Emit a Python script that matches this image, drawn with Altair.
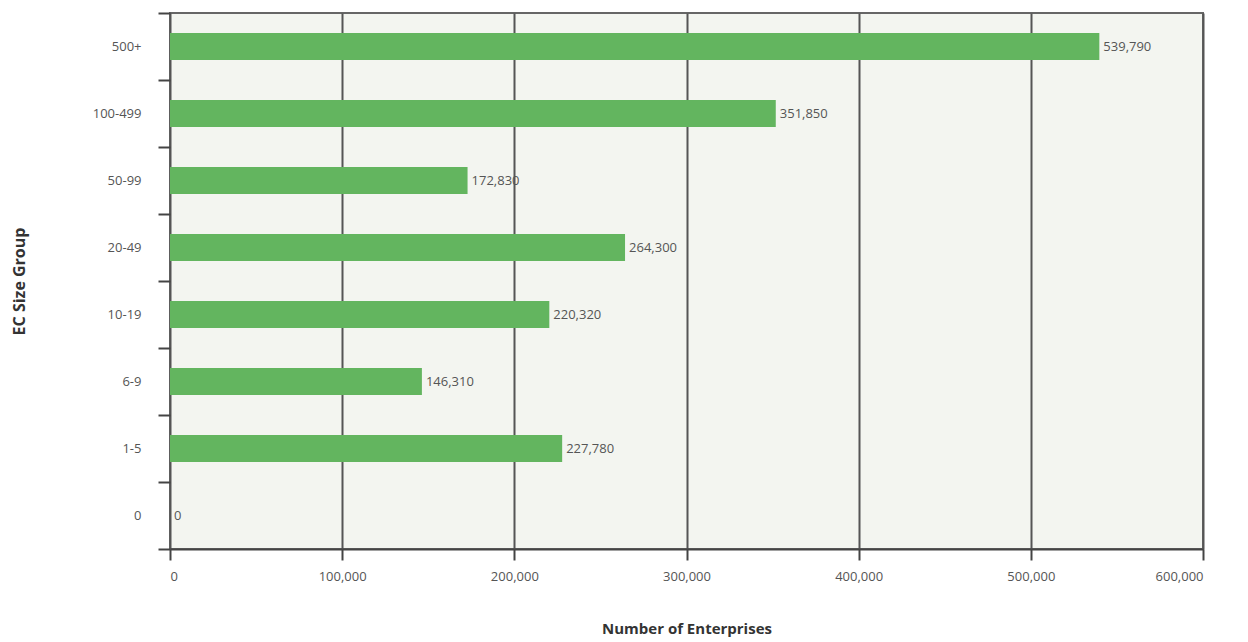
import altair as alt
import pandas as pd

categories = ["500+", "100-499", "50-99", "20-49", "10-19", "6-9", "1-5", "0"]
values = [539790, 351850, 172830, 264300, 220320, 146310, 227780, 0]
x_ticks = [0, 100000, 200000, 300000, 400000, 500000, 600000]

df = pd.DataFrame({"group": categories, "count": values})
df["label"] = df["count"].map(lambda v: f"{v:,}")

FONT = "Open Sans"
TXT = "#555555"

base = alt.Chart(df).encode(
    y=alt.Y("group:N", sort=categories, title="EC Size Group",
            scale=alt.Scale(paddingInner=0, paddingOuter=0),
            axis=alt.Axis(tickBand="extent", tickSize=12, tickColor="#444444",
                          tickWidth=2, domain=False, labelPadding=17,
                          labelFont=FONT, labelFontSize=13, labelColor=TXT,
                          titleFont=FONT, titleFontSize=16, titleFontWeight="bold",
                          titleColor="#333333", titleAngle=-90, titleX=-151,
                          titleY=268, titleBaseline="middle", grid=False)),
)

bars = base.mark_bar(color="#63b55f", height=alt.RelativeBandSize(0.4)).encode(
    x=alt.X("count:Q", title="Number of Enterprises",
            scale=alt.Scale(domain=[0, 600000], nice=False),
            axis=alt.Axis(values=x_ticks, format=",d", tickSize=11,
                          tickColor="#444444", tickWidth=2,
                          domainColor="#444444", domainWidth=2,
                          grid=True, gridColor="#555555", gridWidth=2,
                          labelFont=FONT, labelFontSize=13, labelColor=TXT,
                          labelPadding=10,
                          titleFont=FONT, titleFontSize=15, titleFontWeight="bold",
                          titleColor="#333333", titleY=79, titleBaseline="middle")),
)

labels = base.mark_text(align="left", baseline="middle", dx=4, font=FONT,
                        fontSize=13, color=TXT).encode(
    x=alt.X("count:Q"),
    text="label:N",
)

chart = (bars + labels).properties(
    width=1033, height=536,
    autosize=alt.AutoSizeParams(type="none"),
    padding={"left": 162, "top": 5, "right": 30, "bottom": 90},
    background="white",
).configure_view(
    fill="#f3f5f0", stroke="#666666", strokeWidth=2,
)

chart.save("out.html", embed_options={"renderer": "svg", "actions": False})
